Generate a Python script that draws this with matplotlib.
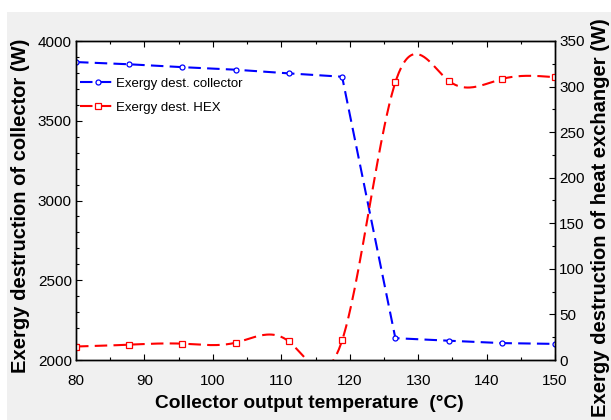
import numpy as np
import matplotlib
matplotlib.use("Agg")
import matplotlib.pyplot as plt
from matplotlib.patches import Rectangle
from matplotlib.ticker import MultipleLocator

plt.rcParams['font.family'] = ['Liberation Sans', 'DejaVu Sans']

# data
temp = [80, 87.78, 95.56, 103.33, 111.11, 118.89, 126.67, 134.44, 142.22, 150]
ex_collector = [3868, 3854, 3836, 3820, 3797, 3776, 2137, 2121, 2106, 2101]
ex_hex = [14.8, 16.8, 17.9, 19.0, 20.3, 21.5, 304.7, 306.5, 308.3, 310.2]


def natural_spline(x, y, n=400):
    # natural cubic spline, only used to draw the smoothed line
    x = np.asarray(x, float)
    y = np.asarray(y, float)
    k = len(x)
    h = np.diff(x)
    A = np.zeros((k, k))
    b = np.zeros(k)
    A[0, 0] = 1
    A[-1, -1] = 1
    for i in range(1, k - 1):
        A[i, i - 1] = h[i - 1]
        A[i, i] = 2 * (h[i - 1] + h[i])
        A[i, i + 1] = h[i]
        b[i] = 3 * ((y[i + 1] - y[i]) / h[i] - (y[i] - y[i - 1]) / h[i - 1])
    c = np.linalg.solve(A, b)
    xs = np.linspace(x[0], x[-1], n)
    idx = np.clip(np.searchsorted(x, xs) - 1, 0, k - 2)
    dx = xs - x[idx]
    bb = (y[1:] - y[:-1]) / h - h * (2 * c[:-1] + c[1:]) / 3
    d = (c[1:] - c[:-1]) / (3 * h)
    ys = y[idx] + bb[idx] * dx + c[idx] * dx ** 2 + d[idx] * dx ** 3
    return xs, ys


fig = plt.figure(figsize=(6.11, 4.2), dpi=100, facecolor='white')
fig.patches.append(Rectangle((7 / 611, 0), 1, 1 - 12 / 420, transform=fig.transFigure,
                             facecolor='#f0f0f0', edgecolor='none', zorder=-10))

ax = fig.add_axes([76 / 611, 60 / 420, 479 / 611, 319 / 420])
ax2 = ax.twinx()

blue = '#0000ff'
red = '#ff0000'

l1, = ax.plot(temp, ex_collector, color=blue, lw=1.5, dashes=(6, 3),
              marker='o', ms=3.6, mfc='white', mec=blue, mew=0.9,
              label='Exergy dest. collector')

xs, ys = natural_spline(temp, ex_hex)
ax2.plot(xs, ys, color=red, lw=1.5, dashes=(6, 3))
ax2.plot(temp, ex_hex, ls='none', marker='s', ms=4.6, mfc='white', mec=red, mew=0.9)
l2, = ax2.plot([], [], color=red, lw=1.5, dashes=(6, 3), marker='s', ms=4.6,
               mfc='white', mec=red, mew=0.9, label='Exergy dest. HEX')

ax.set_xlim(80, 150)
ax.set_ylim(2000, 4000)
ax2.set_ylim(0, 350)

ax.xaxis.set_major_locator(MultipleLocator(10))
ax.xaxis.set_minor_locator(MultipleLocator(5))
ax.yaxis.set_major_locator(MultipleLocator(500))
ax.yaxis.set_minor_locator(MultipleLocator(100))
ax2.yaxis.set_major_locator(MultipleLocator(50))
ax2.yaxis.set_minor_locator(MultipleLocator(25))

ax.tick_params(axis='x', which='both', direction='in', top=True, labelsize=11, pad=10)
ax.tick_params(axis='y', which='both', direction='in', right=False, labelsize=11, pad=3)
ax2.tick_params(axis='y', which='both', direction='in', labelsize=11, pad=3)
for a in (ax, ax2):
    a.tick_params(which='major', length=4, width=0.8)
    a.tick_params(which='minor', length=2.5, width=0.8)
    for s in a.spines.values():
        s.set_linewidth(1.0)

ax.set_xlabel('Collector output temperature  (°C)', fontsize=13.8, fontweight='bold',
              va='center', ha='center')
ax.xaxis.set_label_coords(0.487, -0.135)

ax.set_ylabel('Exergy destruction of collector (W)', fontsize=14.5, fontweight='bold',
              va='center', ha='center', rotation=90, rotation_mode='anchor')
ax.yaxis.set_label_coords(-0.115, 0.483)

ax2.set_ylabel('Exergy destruction of heat exchanger (W)', fontsize=14.5, fontweight='bold',
               va='center', ha='center', rotation=90, rotation_mode='anchor')
ax2.yaxis.set_label_coords(1.094, 0.445)

ax.legend(handles=[l1, l2], loc='upper left', bbox_to_anchor=(-0.008, 0.91), frameon=False,
          fontsize=9.5, handlelength=2.65, handletextpad=0.1, labelspacing=0.9,
          borderaxespad=0.2)

fig.savefig('out.png', dpi=100, facecolor=fig.get_facecolor())
